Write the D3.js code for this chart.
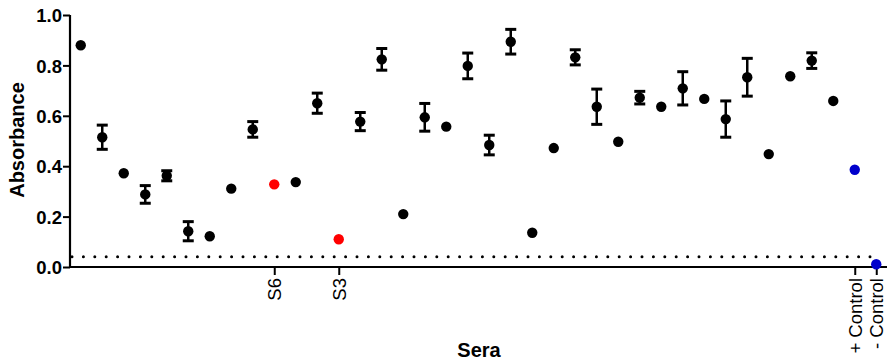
<!DOCTYPE html>
<html><head><meta charset="utf-8">
<script src="https://cdn.jsdelivr.net/npm/d3@7"></script>
<style>html,body{margin:0;padding:0;background:#fff;}svg{display:block;font-family:"Liberation Sans",Arial,sans-serif;}</style>
</head><body><svg id="c" width="892" height="363"></svg>
<script>
// Data
const tickLabels = ["","","","","","","","","","S6","","","S3","","","","","","","","","","","","","","","","","","","","","","","","+ Control","- Control"];
const values = [0.880,0.515,0.372,0.288,0.362,0.142,0.122,0.311,0.546,0.328,0.337,0.650,0.110,0.577,0.824,0.210,0.594,0.557,0.798,0.484,0.894,0.136,0.472,0.832,0.636,0.497,0.672,0.636,0.709,0.667,0.587,0.753,0.448,0.757,0.819,0.659,0.386,0.011];
const errors = [null,0.048,null,0.035,0.020,0.038,null,null,0.031,null,null,0.040,null,0.036,0.043,null,0.055,null,0.051,0.039,0.049,null,null,0.030,0.070,null,0.025,null,0.066,null,0.072,0.075,null,null,0.031,null,null,null];
const groups = ["s","s","s","s","s","s","s","s","s","r","s","s","r","s","s","s","s","s","s","s","s","s","s","s","s","s","s","s","s","s","s","s","s","s","s","s","c","c"];
const groupColors = {s:"#000000", r:"#ff0000", c:"#0000cc"};
const yTicks = [0.0,0.2,0.4,0.6,0.8,1.0];
const cutoff = 0.041;

const svg = d3.select("#c");
const x0 = 70, x1 = 887, yTop = 15, yBot = 267;
const x = d3.scalePoint().domain(d3.range(values.length)).range([x0, x1]).padding(0.5);
const y = d3.scaleLinear().domain([0,1]).range([yBot, yTop]);

// cutoff dotted line
svg.append("line").attr("x1", x0+2).attr("x2", x(values.length-1)+2)
  .attr("y1", y(cutoff)).attr("y2", y(cutoff))
  .attr("stroke","#000").attr("stroke-width",3).attr("stroke-linecap","round")
  .attr("stroke-dasharray","0 11.4");

// Y axis
const yAxis = d3.axisLeft(y).tickValues(yTicks).tickFormat(d3.format(".1f")).tickSize(7).tickPadding(1);
const gy = svg.append("g").attr("transform",`translate(${x0},0)`).call(yAxis);
gy.select(".domain").attr("stroke-width",2.2).attr("d",`M0,${yTop}V${yBot+1}`);
gy.selectAll(".tick line").attr("stroke-width",2);
gy.selectAll(".tick text").attr("font-size",18.5).attr("font-weight","bold").attr("fill","#000").attr("font-family","Liberation Sans, Arial, sans-serif").attr("dy","0.36em");

// X axis
const labeled = d3.range(values.length).filter(i => tickLabels[i] !== "");
const xAxis = d3.axisBottom(x).tickValues(labeled).tickFormat(i => tickLabels[i]).tickSize(8).tickPadding(3);
const gx = svg.append("g").attr("transform",`translate(0,${yBot})`).call(xAxis);
gx.select(".domain").attr("stroke-width",2.2).attr("d",`M${x0-1},0H${x1}`);
gx.selectAll(".tick line").attr("stroke-width",2);
gx.selectAll(".tick text").attr("font-size",18.5).attr("fill","#000").attr("font-family","Liberation Sans, Arial, sans-serif")
  .attr("transform","rotate(-90)").attr("text-anchor","end").attr("x",-11).attr("y",0).attr("dy","0.35em");

// error bars
const eb = svg.append("g");
values.forEach((v,i) => {
  const e = errors[i];
  if (e == null) return;
  const cx = x(i), hi = y(v+e), lo = y(v-e);
  eb.append("line").attr("x1",cx).attr("x2",cx).attr("y1",hi).attr("y2",lo).attr("stroke","#000").attr("stroke-width",2.5);
  [hi,lo].forEach(yy => eb.append("line").attr("x1",cx-5.5).attr("x2",cx+5.5).attr("y1",yy).attr("y2",yy).attr("stroke","#000").attr("stroke-width",3));
});

// points
svg.append("g").selectAll("circle").data(values).join("circle")
  .attr("cx",(d,i)=>x(i)).attr("cy",d=>y(d)).attr("r",5.2)
  .attr("fill",(d,i)=>groupColors[groups[i]]);

// titles
svg.append("text").attr("transform",`translate(24,140) rotate(-90)`).attr("text-anchor","middle")
  .attr("font-size",20).attr("font-weight","bold").text("Absorbance");
svg.append("text").attr("x",479).attr("y",356.5).attr("text-anchor","middle")
  .attr("font-size",20).attr("font-weight","bold").text("Sera");
</script></body></html>
